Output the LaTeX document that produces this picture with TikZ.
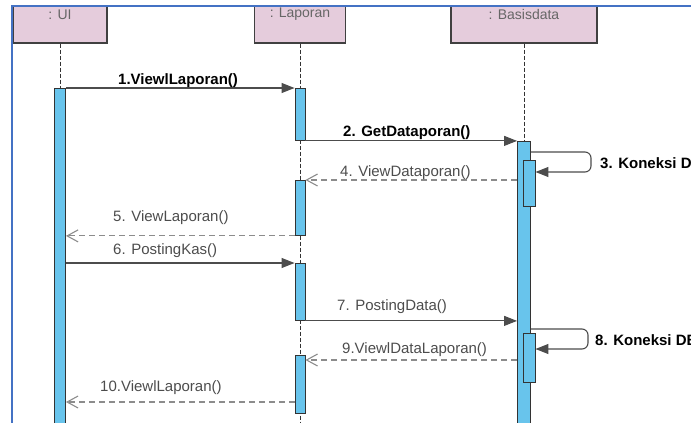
\documentclass[tikz,border=0pt]{standalone}
\usepackage{fontspec}
\setmainfont{Liberation Sans}
\usetikzlibrary{arrows.meta}
\usetikzlibrary{positioning}
\definecolor{headpink}{RGB}{229,204,220}
\definecolor{barblue}{RGB}{104,196,236}
\definecolor{frameblue}{RGB}{68,114,196}
\tikzset{
    headbox/.style={
        rectangle,          % 对象框
        draw=black!75,
        fill=headpink,
        line width=1.1,
        minimum height=57,
        text=black!60,
        font=\fontsize{14}{16}\selectfont
    },
    actbar/.style={
        rectangle,          % 激活条
        draw=black!80,
        fill=barblue,
        line width=0.9,
        minimum width=11,
        inner sep=0,
        anchor=north
    },
    lifeline/.style={black!80, line width=0.8, dash pattern=on 4pt off 2pt},
    call/.style={black!70, line width=1.1, -{Triangle[length=13pt,width=10pt]}},
    reply/.style={black!45, line width=1.1, dash pattern=on 6pt off 4pt,
        -{Straight Barb[length=11pt,width=12pt,line width=1.1pt]}},
    msg/.style={anchor=west, inner sep=0, text=black!70,
        font=\fontsize{15}{18}\selectfont},
    msgb/.style={msg, text=black, font=\fontsize{15}{18}\selectfont\bfseries}
}

\begin{document}
\begin{tikzpicture}[x=1pt, y=-1pt]

\def\xUI{60}
\def\xLap{300}
\def\xDB{524}
\def\yEnd{440}

\useasboundingbox (0,0) rectangle (691,423);

\begin{scope}
\clip (12,6) rectangle (691,423);

% 对象
\node[headbox, minimum width=94] (ui) at (\xUI,14.5) {: UI};
\node[headbox, minimum width=91] (lap) at (\xLap,14.5) {: Laporan};
\node[headbox, minimum width=146] (db) at (\xDB,14.5) {: Basisdata};

\draw[lifeline] (ui.south) -- (\xUI,\yEnd);
\draw[lifeline] (lap.south) -- (\xLap,\yEnd);
\draw[lifeline] (db.south) -- (\xDB,\yEnd);

% 激活条
\node[actbar, minimum height=352] (uiact) at (\xUI,88) {};
\node[actbar, minimum height=52, minimum width=10] (lap1) at (\xLap,88) {};
\node[actbar, minimum height=55, minimum width=10] (lap2) at (\xLap,180) {};
\node[actbar, minimum height=57, minimum width=10] (lap3) at (\xLap,263) {};
\node[actbar, minimum height=58, minimum width=10] (lap4) at (\xLap,355) {};
\node[actbar, minimum height=299, minimum width=13] (dbact) at (\xDB,141) {};
\node[actbar, minimum height=46, minimum width=12] (nest1) at (529,160) {};
\node[actbar, minimum height=49, minimum width=12] (nest2) at (529,333) {};

% 消息
\draw[call] (uiact.north east) -- (lap1.north west);
\node[msgb] (m1) at (118,81) {1.ViewlLaporan()};

\draw[call] (lap1.south east) -- (dbact.west |- lap1.south east);
\node[msgb] (m2) at (343,133) {2. GetDataporan()};

\draw[call, rounded corners=6] (dbact.east |- 0,152) -- (591,152) |- (nest1.east |- 0,172);
\node[msgb] (m3) at (600,163) {3. Koneksi DB};

\draw[reply] (dbact.west |- lap2.north east) -- (lap2.north east);
\node[msg] (m4) at (340,173) {4. ViewDataporan()};

\draw[reply] (lap2.south west) -- (uiact.east |- lap2.south west);
\node[msg] (m5) at (113,218) {5. ViewLaporan()};

\draw[call] (uiact.east |- lap3.north west) -- (lap3.north west);
\node[msg] (m6) at (113,251) {6. PostingKas()};

\draw[call] (lap3.south east) -- (dbact.west |- lap3.south east);
\node[msg] (m7) at (337,307) {7. PostingData()};

\draw[call, rounded corners=6] (dbact.east |- 0,329) -- (588,329) |- (nest2.east |- 0,349);
\node[msgb] (m8) at (595,340) {8. Koneksi DB};

\draw[reply] (dbact.west |- 0,360) -- (lap4.east |- 0,360);
\node[msg] (m9) at (342,350) {9.ViewlDataLaporan()};

\draw[reply] (lap4.west |- 0,402) -- (uiact.east |- 0,402);
\node[msg] (m10) at (100,388) {10.ViewlLaporan()};

\end{scope}

% 边框
\draw[frameblue, line width=2] (12,423) -- (12,6) -- (691,6);

\end{tikzpicture}
\end{document}
